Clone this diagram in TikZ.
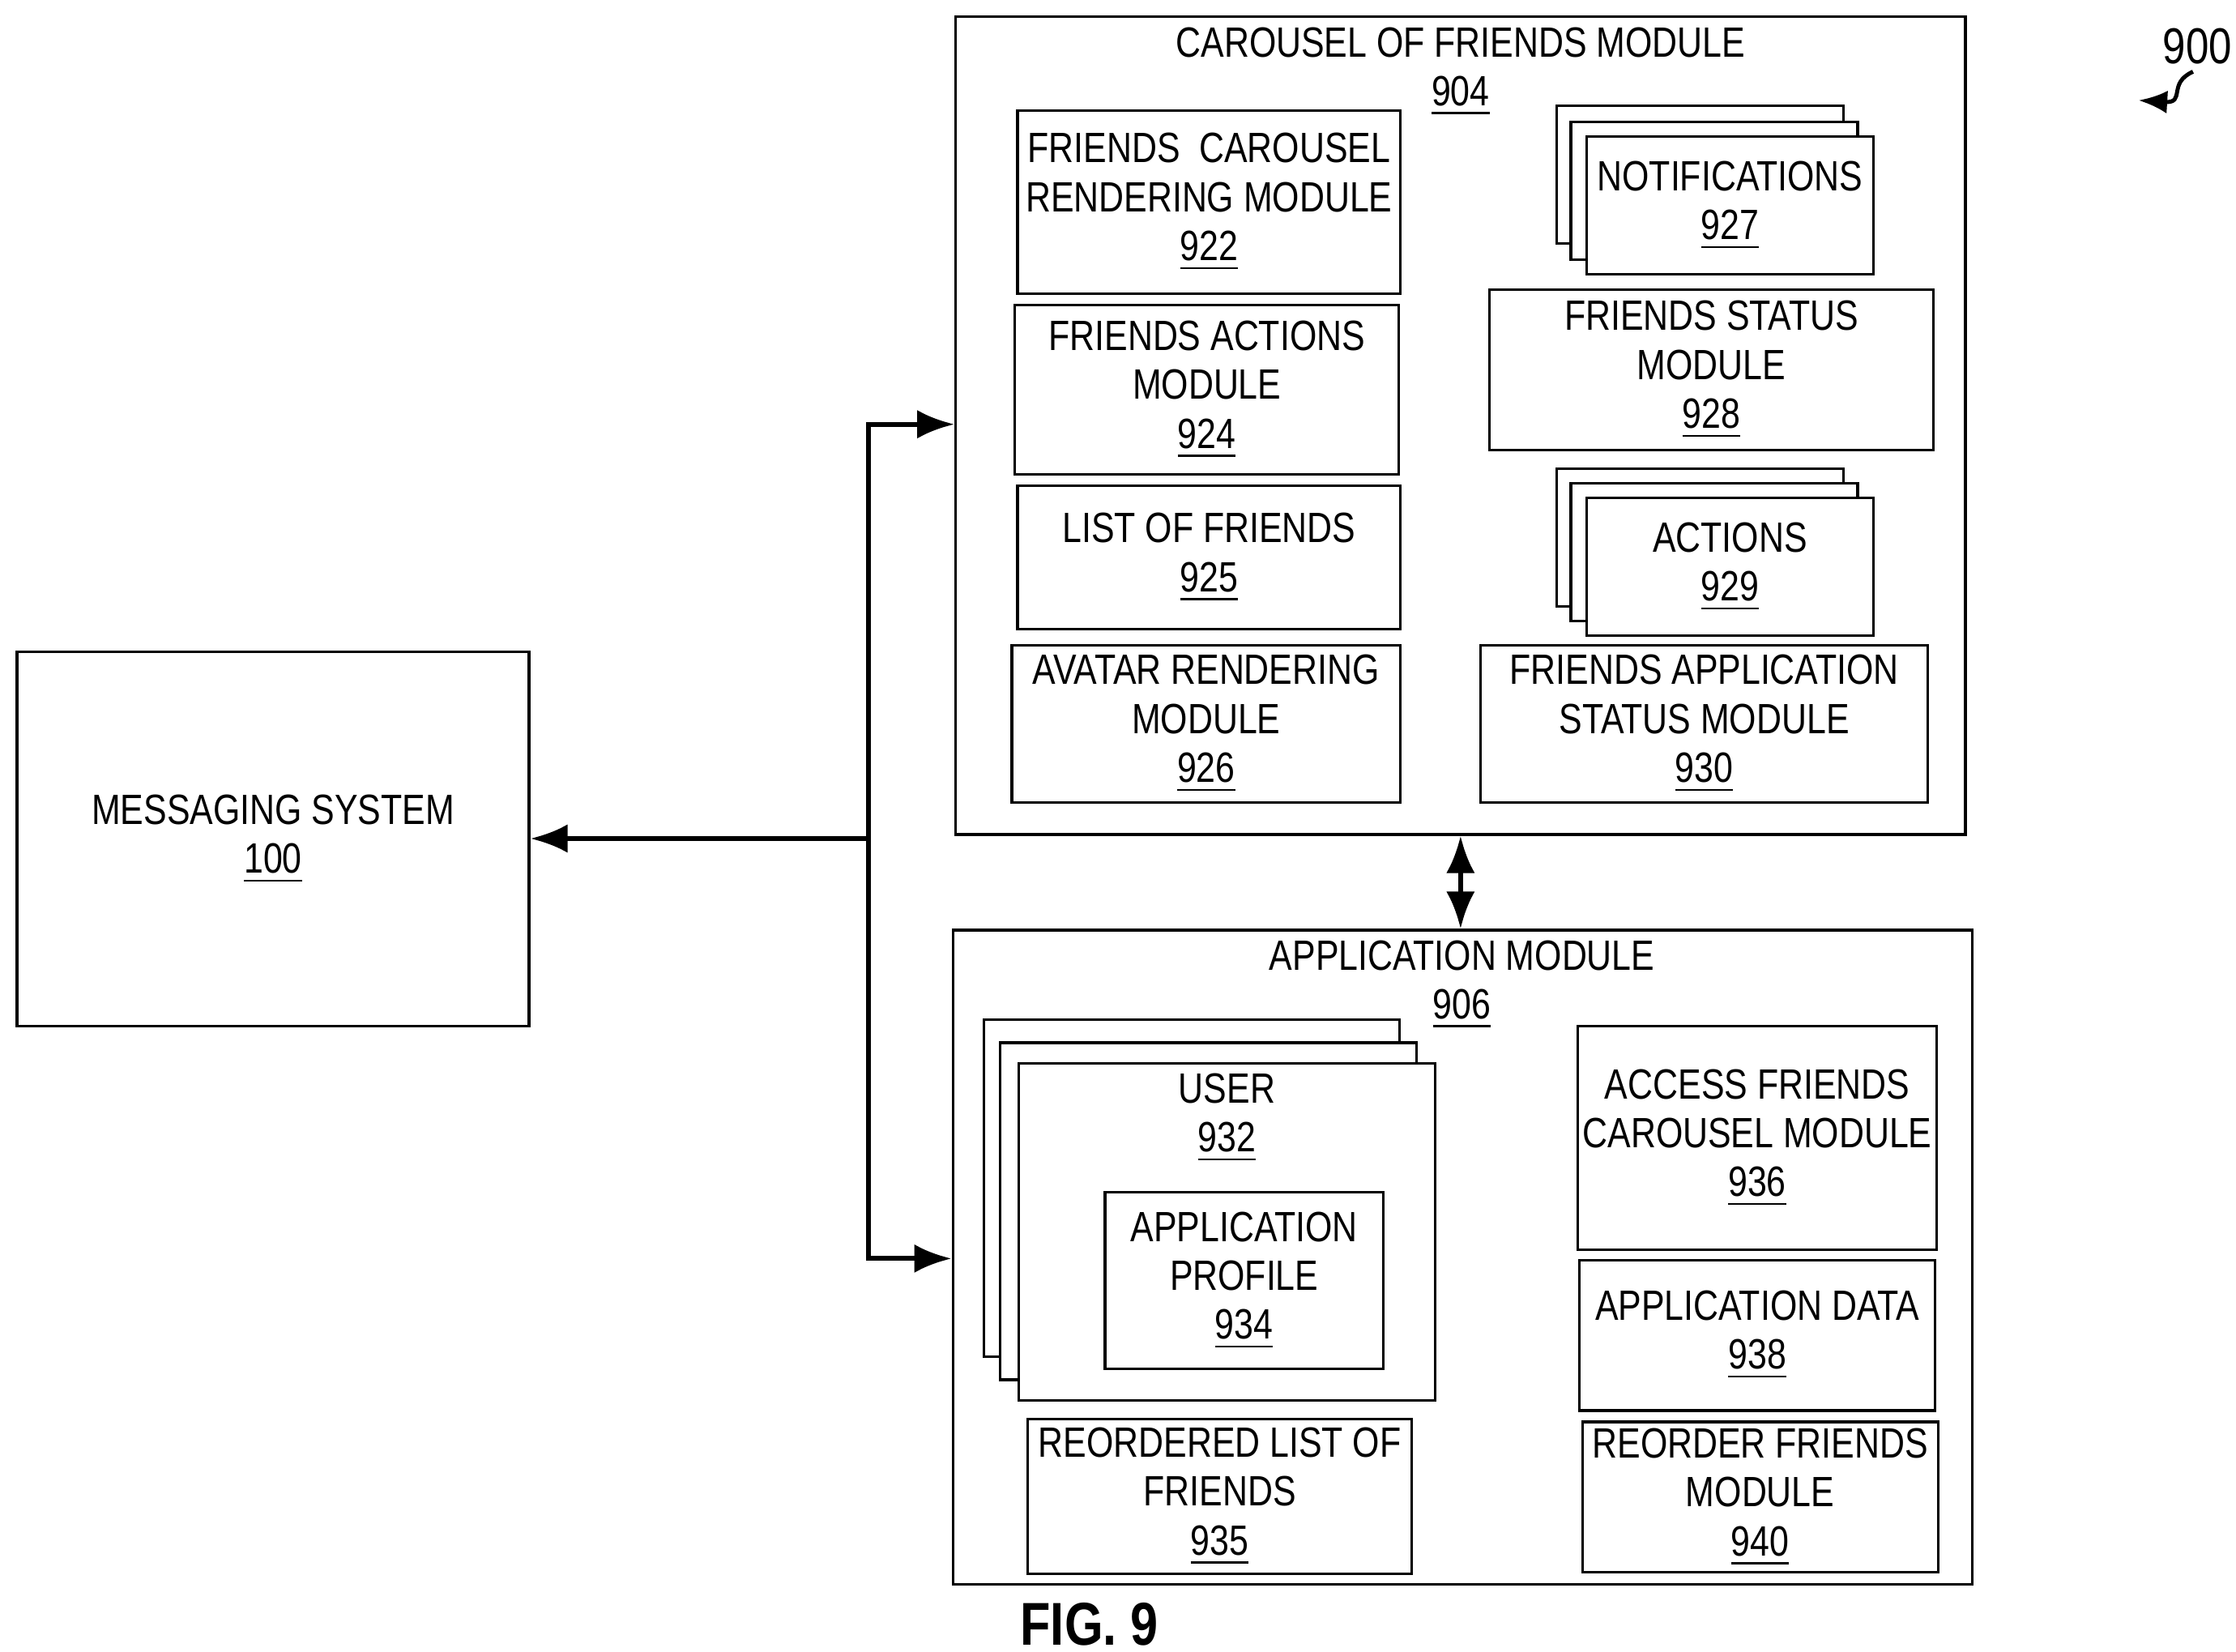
\documentclass[tikz,border=0pt]{standalone}
\usepackage{fontspec}
\setmainfont[FakeStretch=0.82]{Liberation Sans}
\usetikzlibrary{arrows.meta}
\tikzset{
  box/.style={draw, fill=white, line width=0.5pt, align=center, inner sep=1pt},
  lbl/.style={align=center, inner sep=0pt},
  link/.style={line width=1pt, -{Latex[length=2.6mm,width=2mm]}}
}
\begin{document}
\begin{tikzpicture}[x=0.01cm, y=-0.01cm, font=\fontsize{8.4}{9.7}\selectfont]
   \useasboundingbox (0,0) rectangle (1560,1152);
   % messaging system
   \node[box, minimum width=3.57cm, minimum height=2.61cm] (m100) at (190.5,585.5) {MESSAGING SYSTEM\\\underline{100}};
   % carousel of friends module
   \node[box, minimum width=7.04cm, minimum height=5.70cm] (carousel) at (1019,297) {};
   \node[lbl] (t904) at (1019,50) {CAROUSEL OF FRIENDS MODULE\\\underline{904}};
   \node[box, minimum width=2.67cm, minimum height=1.28cm] (m922) at (843.5,141) {FRIENDS\ \ CAROUSEL\\RENDERING MODULE\\\underline{922}};
   \node[box, minimum width=2.68cm, minimum height=1.18cm] (m924) at (842,272) {FRIENDS ACTIONS\\MODULE\\\underline{924}};
   \node[box, minimum width=2.67cm, minimum height=1.00cm] (m925) at (843.5,389) {LIST OF FRIENDS\\\underline{925}};
   \node[box, minimum width=2.71cm, minimum height=1.10cm] (m926) at (841.5,505) {AVATAR RENDERING\\MODULE\\\underline{926}};
   \node[box, minimum width=2.00cm, minimum height=0.96cm] (m927c) at (1186,122) {};
   \node[box, minimum width=2.00cm, minimum height=0.96cm] (m927b) at (1196,133) {};
   \node[box, minimum width=2.00cm, minimum height=0.96cm] (m927) at (1207,143.5) {NOTIFICATIONS\\\underline{927}};
   \node[box, minimum width=3.10cm, minimum height=1.12cm] (m928) at (1194,258) {FRIENDS STATUS\\MODULE\\\underline{928}};
   \node[box, minimum width=2.00cm, minimum height=0.96cm] (m929c) at (1186,375) {};
   \node[box, minimum width=2.00cm, minimum height=0.96cm] (m929b) at (1196,385) {};
   \node[box, minimum width=2.00cm, minimum height=0.96cm] (m929) at (1207,395.5) {ACTIONS\\\underline{929}};
   \node[box, minimum width=3.12cm, minimum height=1.10cm] (m930) at (1189,505) {FRIENDS APPLICATION\\STATUS MODULE\\\underline{930}};
   % application module
   \node[box, minimum width=7.11cm, minimum height=4.56cm] (app) at (1020.5,877) {};
   \node[lbl] (t906) at (1020,687) {APPLICATION MODULE\\\underline{906}};
   \node[box, minimum width=2.90cm, minimum height=2.35cm] (m932c) at (831.5,829) {};
   \node[box, minimum width=2.90cm, minimum height=2.35cm] (m932b) at (843,845) {};
   \node[box, minimum width=2.90cm, minimum height=2.35cm] (m932) at (856,859.5) {};
   \node[lbl] (t932) at (856,780) {USER\\\underline{932}};
   \node[box, minimum width=1.94cm, minimum height=1.23cm] (m934) at (868,893.5) {APPLICATION\\PROFILE\\\underline{934}};
   \node[box, minimum width=2.68cm, minimum height=1.08cm] (m935) at (851,1044) {REORDERED LIST OF\\FRIENDS\\\underline{935}};
   \node[box, minimum width=2.48cm, minimum height=1.56cm] (m936) at (1226,794) {ACCESS FRIENDS\\CAROUSEL MODULE\\\underline{936}};
   \node[box, minimum width=2.48cm, minimum height=1.05cm] (m938) at (1226,931.5) {APPLICATION DATA\\\underline{938}};
   \node[box, minimum width=2.48cm, minimum height=1.05cm] (m940) at (1228,1044.5) {REORDER FRIENDS\\MODULE\\\underline{940}};
   % labels
   \node[lbl, font=\fontsize{12}{14}\bfseries] (fig) at (760,1133) {FIG. 9};
   \node[lbl, font=\fontsize{10}{12}\selectfont] (n900) at (1533,32) {900};
   % edges
   \coordinate (j) at (606,585);
   \coordinate (jt) at (606,296);
   \coordinate (jb) at (606,878);
   \draw[link] (j) -- (m100.east |- j);
   \draw[link] (j) -- (jt) -- (carousel.west |- jt);
   \draw[link] (j) -- (jb) -- (app.west |- jb);
   \draw[link, {Latex[length=2.6mm,width=2mm]}-{Latex[length=2.6mm,width=2mm]}] (carousel.south) -- (carousel.south |- app.north);
   \draw[line width=0.8pt, -{Latex[length=2mm,width=1.6mm]}] (1530,50) .. controls (1512,58) and (1525,72) .. (1492,70);
\end{tikzpicture}
\end{document}
